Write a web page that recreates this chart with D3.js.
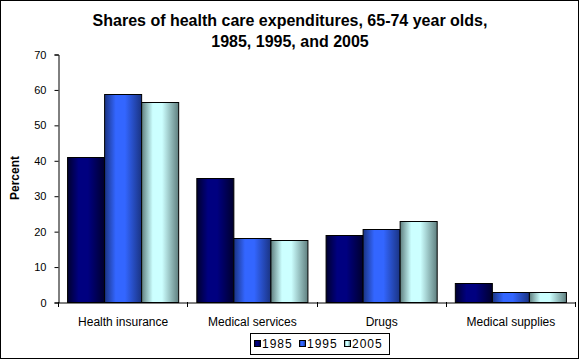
<!DOCTYPE html>
<html>
<head>
<meta charset="utf-8">
<script src="https://cdn.jsdelivr.net/npm/d3@7"></script>
<style>
  html, body { margin: 0; padding: 0; background: #fff; }
  svg { display: block; font-family: Arial, "Liberation Sans", sans-serif; }
</style>
</head>
<body>
<svg id="chart" width="580" height="360"></svg>
<script>
const categories = ["Health insurance", "Medical services", "Drugs", "Medical supplies"];
const seriesNames = ["1985", "1995", "2005"];
const values1985 = [40.8, 34.9, 18.8, 5.3];
const values1995 = [58.6, 18.0, 20.5, 2.9];
const values2005 = [56.4, 17.4, 22.8, 2.9];
const yTicks = [0, 10, 20, 30, 40, 50, 60, 70];
const titleLines = ["Shares of health care expenditures, 65-74 year olds,", "1985, 1995, and 2005"];
const yLabel = "Percent";

const seriesValues = [values1985, values1995, values2005];
const baseColors = ["#000080", "#3366FF", "#CCFFFF"];
const edgeColors = ["#00002e", "#1a3382", "#5f7f7f"];

const svg = d3.select("#chart");
const W = 580, H = 360;

// gradients
const defs = svg.append("defs");
seriesNames.forEach((s, i) => {
  const g = defs.append("linearGradient").attr("id", "grad" + i)
    .attr("x1", "0%").attr("x2", "100%").attr("y1", "0%").attr("y2", "0%");
  g.append("stop").attr("offset", "0%").attr("stop-color", edgeColors[i]);
  g.append("stop").attr("offset", "30%").attr("stop-color", baseColors[i]);
  g.append("stop").attr("offset", "55%").attr("stop-color", baseColors[i]);
  g.append("stop").attr("offset", "100%").attr("stop-color", edgeColors[i]);
});

// outer border
svg.append("rect").attr("x", 0.5).attr("y", 0.5).attr("width", W - 2).attr("height", H - 2)
  .attr("fill", "#fff").attr("stroke", "#000").attr("stroke-width", 1);

// title
svg.append("g").selectAll("text").data(titleLines).join("text")
  .attr("x", 290).attr("y", (d, i) => 26 + i * 21)
  .attr("text-anchor", "middle").attr("font-weight", "bold").attr("font-size", "16px")
  .attr("fill", "#000").text(d => d);

const pLeft = 58, pRight = 575, pTop = 54, pBottom = 302;

const x0 = d3.scaleBand().domain(categories).range([pLeft, pRight]).paddingInner(0).paddingOuter(0);
const x1 = d3.scaleBand().domain(seriesNames).range([0, x0.bandwidth()]).paddingInner(0).paddingOuter(0.245);
const y = d3.scaleLinear().domain([0, 70]).range([pBottom, pTop]);

// bars
const groups = svg.append("g").selectAll("g").data(categories).join("g")
  .attr("transform", d => `translate(${x0(d)},0)`);
groups.selectAll("rect").data((c, ci) => seriesNames.map((s, si) => ({ s, si, v: seriesValues[si][ci] })))
  .join("rect")
  .attr("x", d => x1(d.s) + 0.5)
  .attr("y", d => Math.round(y(d.v)) + 0.5)
  .attr("width", x1.bandwidth())
  .attr("height", d => pBottom - Math.round(y(d.v)))
  .attr("fill", d => `url(#grad${d.si})`)
  .attr("stroke", "#000").attr("stroke-width", 1);

// y axis
const yAxis = d3.axisLeft(y).tickValues(yTicks).tickSize(4).tickPadding(8).tickFormat(d3.format("d"));
const yg = svg.append("g").attr("transform", `translate(${pLeft + 0.5},0.5)`).call(yAxis);
yg.select(".domain").attr("stroke", "#000");
yg.selectAll(".tick line").attr("stroke", "#000");
yg.selectAll("text").attr("font-size", "11px").attr("fill", "#000").attr("font-family", "Arial, 'Liberation Sans', sans-serif");

// x axis
const xAxis = d3.axisBottom(x0).tickSize(0).tickPadding(0).tickFormat(d => d);
const xg = svg.append("g").attr("transform", `translate(0.5,${pBottom + 0.5})`).call(xAxis);
xg.select(".domain").attr("stroke", "#000");
xg.selectAll(".tick line").remove();
xg.selectAll(".tick text").attr("dy", null).attr("y", 23).attr("font-size", "12px").attr("fill", "#000")
  .attr("font-family", "Arial, 'Liberation Sans', sans-serif");
// category boundary ticks
const bounds = categories.map(c => x0(c)).concat([pRight]);
svg.append("g").selectAll("line").data(bounds).join("line")
  .attr("x1", d => Math.round(d) + 0.5).attr("x2", d => Math.round(d) + 0.5)
  .attr("y1", pBottom).attr("y2", pBottom + 5).attr("stroke", "#000");

// y label
svg.append("text").attr("transform", `translate(19,${(pTop + pBottom) / 2}) rotate(-90)`)
  .attr("text-anchor", "middle").attr("font-weight", "bold").attr("font-size", "12px").text(yLabel);

// legend
const lg = svg.append("g");
lg.append("rect").attr("x", 250.5).attr("y", 333.5).attr("width", 139).attr("height", 21)
  .attr("fill", "#fff").attr("stroke", "#000");
const legendX = [254, 299, 344];
const items = lg.selectAll("g.item").data(seriesNames).join("g").attr("class", "item");
items.append("rect").attr("x", (d, i) => legendX[i] + 0.5).attr("y", 340.5).attr("width", 6).attr("height", 6)
  .attr("fill", (d, i) => `url(#grad${i})`).attr("stroke", "#000");
items.append("text").attr("x", (d, i) => legendX[i] + 8).attr("y", 348)
  .attr("font-size", "12px").attr("letter-spacing", "1px").text(d => d);
</script>
</body>
</html>
